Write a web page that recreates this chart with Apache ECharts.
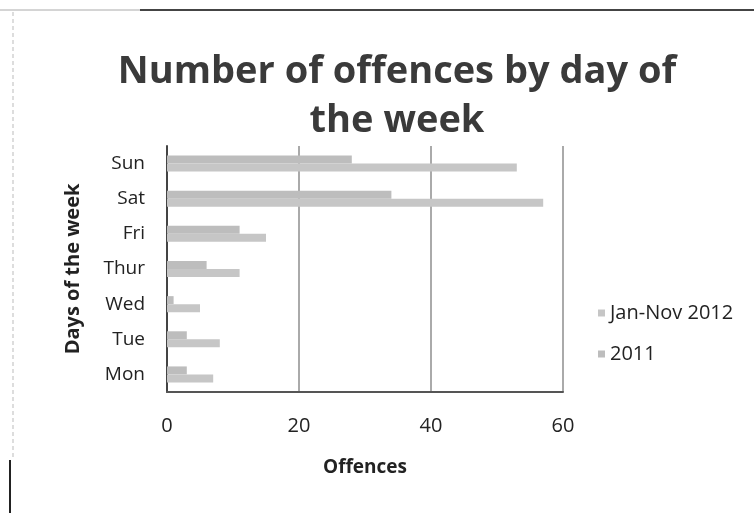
<!DOCTYPE html>
<html><head><meta charset="utf-8">
<script src="https://cdn.jsdelivr.net/npm/echarts@6/dist/echarts.min.js"></script>
<style>html,body{margin:0;padding:0;background:#fff}#c{width:754px;height:513px}</style>
</head><body><div id="c"></div>
<script>
const days = ['Mon', 'Tue', 'Wed', 'Thur', 'Fri', 'Sat', 'Sun'];
const seriesNames = ['Jan-Nov 2012', '2011'];
const jan_nov_2012 = [7, 8, 5, 11, 15, 57, 53];
const y2011 = [3, 3, 1, 6, 11, 34, 28];
const xTicks = [0, 20, 40, 60];

const font = '"Open Sans", "DejaVu Sans", sans-serif';
const chart = echarts.init(document.getElementById('c'));
chart.setOption({
  animation: false,
  backgroundColor: '#fff',
  title: {
    text: 'Number of offences by day of\nthe week',
    left: 392, textAlign: 'center', top: 43,
    textStyle: { fontFamily: font, fontWeight: 'bold', fontSize: 38, lineHeight: 49, color: '#3a3a3a' }
  },
  legend: {
    orient: 'vertical', left: 593, top: 298, itemGap: 21,
    itemWidth: 7, itemHeight: 7, icon: 'rect',
    data: seriesNames,
    textStyle: { fontFamily: font, fontSize: 20, color: '#222' }
  },
  grid: { left: 167, right: 191, top: 146, bottom: 121 },
  xAxis: {
    type: 'value', min: xTicks[0], max: xTicks[xTicks.length - 1], interval: 20,
    name: 'Offences', nameLocation: 'middle', nameGap: 66,
    nameTextStyle: { fontFamily: font, fontWeight: 'bold', fontSize: 19, color: '#222' },
    axisLine: { show: true, lineStyle: { color: '#555', width: 2 } },
    axisTick: { show: false },
    axisLabel: { fontFamily: font, fontSize: 20, color: '#222', margin: 24 },
    splitLine: { show: true, lineStyle: { color: '#aaa', width: 2 } }
  },
  yAxis: {
    type: 'category', data: days,
    name: 'Days of the week', nameLocation: 'middle', nameGap: 84, nameRotate: 90,
    nameTextStyle: { fontFamily: font, fontWeight: 'bold', fontSize: 20, color: '#222' },
    axisLine: { show: true, lineStyle: { color: '#444', width: 2 } },
    axisTick: { show: false },
    axisLabel: { fontFamily: font, fontSize: 19, color: '#222', margin: 22 }
  },
  series: [
    { name: seriesNames[1], type: 'bar', data: y2011, barWidth: 8, barGap: '0%',
      itemStyle: { color: '#bdbdbd' } },
    { name: seriesNames[0], type: 'bar', data: jan_nov_2012, barWidth: 8, barGap: '0%',
      itemStyle: { color: '#c6c6c6' } }
  ],
  graphic: [
    { type: 'line', shape: { x1: 140, y1: 10, x2: 754, y2: 10 }, style: { stroke: '#444', lineWidth: 2 } },
    { type: 'line', shape: { x1: 0, y1: 10, x2: 140, y2: 10 }, style: { stroke: '#aaa', lineWidth: 1 } },
    { type: 'line', shape: { x1: 13, y1: 12, x2: 13, y2: 460 }, style: { stroke: '#bbb', lineWidth: 1, lineDash: [4, 3] } },
    { type: 'line', shape: { x1: 10, y1: 460, x2: 10, y2: 513 }, style: { stroke: '#222', lineWidth: 2 } }
  ]
});
</script></body></html>
